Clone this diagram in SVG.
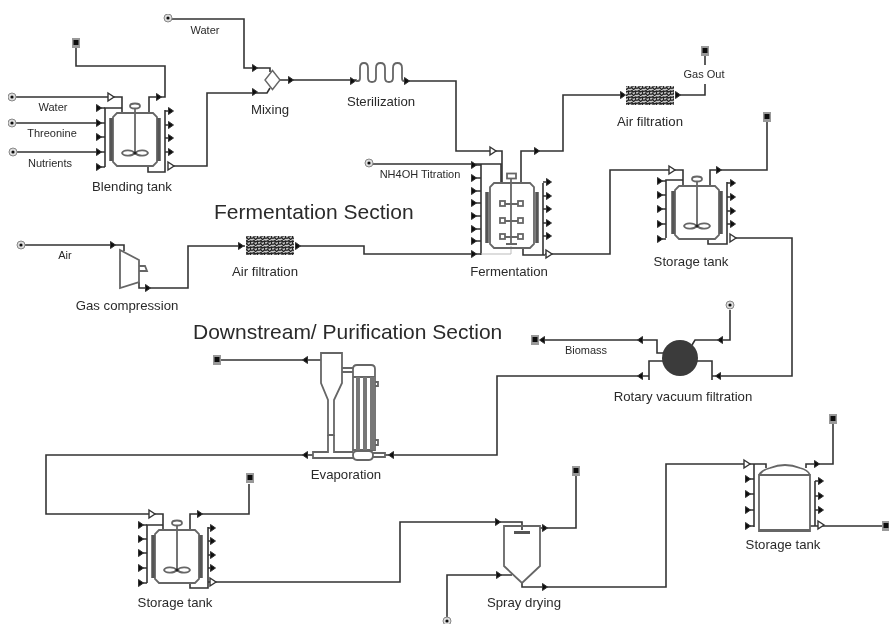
<svg xmlns="http://www.w3.org/2000/svg" xmlns:xlink="http://www.w3.org/1999/xlink" width="889" height="624" viewBox="0 0 889 624">
<style>
text{font-family:"Liberation Sans",Arial,sans-serif;fill:#2a2a2a}
.l{font-size:13.2px;text-anchor:middle}
.s{font-size:11px;text-anchor:middle}
.h{font-size:21px}
.c{fill:none;stroke:#333;stroke-width:1.6}
.e{fill:none;stroke:#666;stroke-width:1.8}
.j{fill:none;stroke:#555;stroke-width:3.5}
.t{fill:#fff;stroke:#666;stroke-width:1.4}
.d{fill:#222}
</style>
<defs>
<filter id="soft" x="0" y="0" width="100%" height="100%"><feGaussianBlur stdDeviation="0.4"/></filter>
<path id="ar" d="M-2.500,-3.500L2.500,0L-2.500,3.500Z" fill="#111" stroke="#333"/>
<path id="al" d="M2.500,-3.500L-2.500,0L2.500,3.500Z" fill="#111" stroke="#333"/>
<path id="ah" d="M-3,-4L3,0L-3,4Z" fill="#fff" stroke="#333" stroke-width="1.4"/>
<g id="snk"><rect x="-4" y="-5" width="8" height="10" fill="#999"/><rect x="-2.500" y="-3" width="5" height="5" fill="#111"/></g>
<g id="src"><circle r="4" fill="#ddd" stroke="#888"/><circle r="1.600" fill="#111"/></g>
<g id="tank">
<path class="e" d="M-18,0H18L22,4V49L18,53H-18L-22,49V4Z"/>
<path class="j" d="M-24,5V48M24,5V48"/>
<ellipse cy="-7" rx="5" ry="2.500" class="e"/>
<path class="e" d="M0,-5V39"/>
<path class="e" d="M0,40C-4,36 -12,37 -13,40C-12,43 -4,44 0,40C4,36 12,37 13,40C12,43 4,44 0,40Z" stroke-width="1.100"/>
<circle cy="40" r="1.500" class="d"/>
</g>
<pattern id="mesh" width="7" height="6" patternUnits="userSpaceOnUse">
<rect width="7" height="6" fill="#c8c8c8"/>
<path d="M0,1.500L2,0.500L3.500,2L5.500,1L7,1.500M0,4.500L1.500,3.500L3.500,5.500L5.500,4L7,4.500M2,.5V3.500M5.500,1V4" fill="none" stroke="#222" stroke-width="1.200"/>
</pattern>
</defs>
<rect width="889" height="624" fill="#fff"/>
<g filter="url(#soft)">
<g id="connectors">
<path class="c" d="M12,97H122V113"/>
<path class="c" d="M105,167V108H122"/>
<path class="c" d="M12,123H99M12,152H99"/>
<path class="c" d="M149,113V97H165V66H76V47"/>
<path class="c" d="M148,166V172H165V110"/>
<path class="c" d="M171,166H207V93H267L270,88"/>
<path class="c" d="M168,19H244V68H270V72"/>
<path class="c" d="M280,80H356V81"/>
<path class="c" d="M404,81H456V151H502V183"/>
<path class="c" d="M369,164H501V183M481,164V255"/>
<path class="c" d="M521,183V151H563V95H624"/>
<path class="c" d="M676,95H705V84M705,65V56"/>
<path class="c" d="M543,183V255M523,248V255H545"/>
<path class="c" d="M545,254H610V170H683V186"/>
<path class="c" d="M710,186V170H767V120"/>
<path class="c" d="M666,238V180H683M727,182V244H708V239"/>
<path class="c" d="M730,238H792V376H712"/>
<path class="c" d="M712,380V361H697M649,380V361H664"/>
<path class="c" d="M649,376H497V455H385"/>
<path class="c" d="M664,353H657V340H540"/>
<path class="c" d="M692,345L695,340H730V310"/>
<path class="c" d="M321,360H220"/>
<path class="c" d="M313,455H46V514H163V530"/>
<path class="c" d="M147,583V525H163M208,527V588H190V583"/>
<path class="c" d="M190,530V514H249V484"/>
<path class="c" d="M208,582H400V522H522V530"/>
<path class="c" d="M540,528H576V476"/>
<path class="c" d="M447,618V575H512"/>
<path class="c" d="M522,583V587H666V464H766V468"/>
<path class="c" d="M754,527V464M806,468V464H833V424"/>
<path class="c" d="M815,481V526H810M815,526H882"/>
<path class="c" d="M21,245H124V251"/>
<path class="c" d="M139,282V288H188V246H245"/>
<path class="c" d="M295,246H364V254H481"/>
<path d="M481,254H511V246" fill="none" stroke="#bbb" stroke-width="1"/>
<path class="c" d="M99,108H105M99,123H105M99,137H105M99,152H105M99,167H105M165,111H171M165,125H171M165,138H171M165,152H171M474,165H481M474,178H481M474,191H481M474,203H481M474,216H481M474,229H481M474,241H481M543,182H549M543,196H549M543,209H549M543,223H549M543,236H549M660,181H666M660,195H666M660,209H666M660,224H666M660,239H666M727,183H733M727,197H733M727,211H733M727,224H733M141,525H147M141,539H147M141,553H147M141,568H147M141,583H147M208,528H213M208,541H213M208,555H213M208,568H213M748,479H754M748,494H754M748,510H754M748,526H754M815,481H821M815,496H821M815,510H821"/>
<g id="arrows">
<use xlink:href="#ah" x="111" y="97"/><use xlink:href="#ar" x="159" y="97"/>
<use xlink:href="#ar" x="99" y="108"/><use xlink:href="#ar" x="99" y="123"/><use xlink:href="#ar" x="99" y="137"/><use xlink:href="#ar" x="99" y="152"/><use xlink:href="#ar" x="99" y="167"/>
<use xlink:href="#ar" x="171" y="111"/><use xlink:href="#ar" x="171" y="125"/><use xlink:href="#ar" x="171" y="138"/><use xlink:href="#ar" x="171" y="152"/><use xlink:href="#ah" x="171" y="166"/>
<use xlink:href="#ar" x="255" y="68"/><use xlink:href="#ar" x="255" y="92"/><use xlink:href="#ar" x="291" y="80"/>
<use xlink:href="#ar" x="353" y="81"/><use xlink:href="#ar" x="407" y="81"/>
<use xlink:href="#ah" x="493" y="151"/><use xlink:href="#ar" x="537" y="151"/><use xlink:href="#ar" x="623" y="95"/><use xlink:href="#ar" x="678" y="95"/>
<use xlink:href="#ar" x="474" y="165"/><use xlink:href="#ar" x="474" y="178"/><use xlink:href="#ar" x="474" y="191"/><use xlink:href="#ar" x="474" y="203"/><use xlink:href="#ar" x="474" y="216"/><use xlink:href="#ar" x="474" y="229"/><use xlink:href="#ar" x="474" y="241"/><use xlink:href="#ar" x="474" y="254"/>
<use xlink:href="#ar" x="549" y="182"/><use xlink:href="#ar" x="549" y="196"/><use xlink:href="#ar" x="549" y="209"/><use xlink:href="#ar" x="549" y="223"/><use xlink:href="#ar" x="549" y="236"/><use xlink:href="#ah" x="549" y="254"/>
<use xlink:href="#ah" x="672" y="170"/><use xlink:href="#ar" x="719" y="170"/>
<use xlink:href="#ar" x="660" y="181"/><use xlink:href="#ar" x="660" y="195"/><use xlink:href="#ar" x="660" y="209"/><use xlink:href="#ar" x="660" y="224"/><use xlink:href="#ar" x="660" y="239"/>
<use xlink:href="#ar" x="733" y="183"/><use xlink:href="#ar" x="733" y="197"/><use xlink:href="#ar" x="733" y="211"/><use xlink:href="#ar" x="733" y="224"/><use xlink:href="#ah" x="733" y="238"/>
<use xlink:href="#al" x="718" y="376"/><use xlink:href="#al" x="640" y="376"/><use xlink:href="#al" x="640" y="340"/><use xlink:href="#al" x="720" y="340"/><use xlink:href="#al" x="542" y="340"/>
<use xlink:href="#al" x="305" y="360"/><use xlink:href="#al" x="391" y="455"/><use xlink:href="#al" x="305" y="455"/>
<use xlink:href="#ah" x="152" y="514"/><use xlink:href="#ar" x="200" y="514"/>
<use xlink:href="#ar" x="141" y="525"/><use xlink:href="#ar" x="141" y="539"/><use xlink:href="#ar" x="141" y="553"/><use xlink:href="#ar" x="141" y="568"/><use xlink:href="#ar" x="141" y="583"/>
<use xlink:href="#ar" x="213" y="528"/><use xlink:href="#ar" x="213" y="541"/><use xlink:href="#ar" x="213" y="555"/><use xlink:href="#ar" x="213" y="568"/><use xlink:href="#ah" x="213" y="582"/>
<use xlink:href="#ar" x="498" y="522"/><use xlink:href="#ar" x="545" y="528"/><use xlink:href="#ar" x="499" y="575"/><use xlink:href="#ar" x="545" y="587"/>
<use xlink:href="#ah" x="747" y="464"/><use xlink:href="#ar" x="817" y="464"/>
<use xlink:href="#ar" x="748" y="479"/><use xlink:href="#ar" x="748" y="494"/><use xlink:href="#ar" x="748" y="510"/><use xlink:href="#ar" x="748" y="526"/>
<use xlink:href="#ar" x="821" y="481"/><use xlink:href="#ar" x="821" y="496"/><use xlink:href="#ar" x="821" y="510"/><use xlink:href="#ah" x="821" y="525"/>
<use xlink:href="#ar" x="113" y="245"/><use xlink:href="#ar" x="148" y="288"/><use xlink:href="#ar" x="241" y="246"/><use xlink:href="#ar" x="298" y="246"/>
</g>
</g>

<g id="sources">
<use xlink:href="#src" x="12" y="97"/><use xlink:href="#src" x="12" y="123"/><use xlink:href="#src" x="13" y="152"/>
<use xlink:href="#src" x="168" y="18"/><use xlink:href="#src" x="369" y="163"/><use xlink:href="#src" x="21" y="245"/>
<use xlink:href="#src" x="730" y="305"/><use xlink:href="#src" x="447" y="621"/>
</g>
<g id="sinks">
<use xlink:href="#snk" x="76" y="43"/><use xlink:href="#snk" x="705" y="51"/><use xlink:href="#snk" x="767" y="117"/>
<use xlink:href="#snk" x="535" y="340"/><use xlink:href="#snk" x="217" y="360"/><use xlink:href="#snk" x="250" y="478"/>
<use xlink:href="#snk" x="576" y="471"/><use xlink:href="#snk" x="833" y="419"/><use xlink:href="#snk" x="886" y="526"/>
</g>

<g id="blending-tank"><use xlink:href="#tank" x="135" y="113"/><text class="l" x="132" y="191">Blending tank</text></g>
<g id="mixing"><path class="t" d="M272.500,70.500L280,80L272.500,89.500L265,80Z"/><text class="l" x="270" y="114">Mixing</text></g>
<g id="sterilization"><path class="e" stroke-width="2" d="M356,81H358Q360,81 360,78V68Q360,63 364,63Q368,63 368,68V78Q368,82 372,82Q376,82 376,78V68Q376,63 380.500,63Q385,63 385,68V78Q385,82 389,82Q393,82 393,78V68Q393,63 397.500,63Q402,63 402,68V78Q402,81 404,81"/><text class="l" x="381" y="106">Sterilization</text></g>
<g id="fermentation">
<path class="e" d="M494,183H530L534,187V244L530,248H494L490,244V187Z"/>
<path class="j" d="M487,192V243M537,192V243"/>
<rect x="507" y="173.500" width="9" height="5" class="e" stroke-width="1.200"/>
<path class="e" d="M511,179V243M502,204H521M502,221H521M502,237H521M506,244H517"/>
<g class="e" stroke-width="1.200"><rect x="500" y="201" width="5" height="5" fill="#fff"/><rect x="518" y="201" width="5" height="5" fill="#fff"/><rect x="500" y="218" width="5" height="5" fill="#fff"/><rect x="518" y="218" width="5" height="5" fill="#fff"/><rect x="500" y="234" width="5" height="5" fill="#fff"/><rect x="518" y="234" width="5" height="5" fill="#fff"/></g>
<text class="l" x="509" y="276">Fermentation</text></g>
<g id="air-filtration-out"><rect x="626" y="86" width="48" height="19" fill="url(#mesh)"/><text class="l" x="650" y="126">Air filtration</text></g>
<g id="storage-tank-1"><use xlink:href="#tank" x="697" y="186"/><text class="l" x="691" y="266">Storage tank</text></g>
<g id="gas-compression"><path class="e" d="M120,250L139,260V282L120,288Z"/><path class="e" d="M139,266H145L147,271H139"/><text class="l" x="127" y="310">Gas compression</text></g>
<g id="air-filtration-in"><rect x="246" y="236" width="48" height="19" fill="url(#mesh)"/><text class="l" x="265" y="276">Air filtration</text></g>
<g id="rotary-vacuum-filtration"><circle cx="680" cy="358" r="18" fill="#3a3a3a"/><text class="l" x="683" y="401">Rotary vacuum filtration</text></g>
<g id="evaporation">
<path class="e" d="M321,353H342V383L334,400V435H328V400L321,383Z"/>
<path class="e" d="M342,368H353M342,372H353"/>
<path class="e" d="M353,377V369Q353,365 357,365H371Q375,365 375,369V450H353V377H375"/>
<path d="M356,377H360V450H356ZM363,377H367V450H363ZM370,377H375V450H370Z" fill="#777"/>
<path class="e" d="M375,382H378V386H375M375,440H378V445H375"/>
<path class="e" d="M328,435V452H313V458H353M334,435V452H353"/>
<path class="e" d="M353,455Q353,451 357,451H369Q373,451 373,455Q373,460 369,460H357Q353,460 353,455Z"/>
<path class="e" d="M373,453H385V457H373"/>
<text class="l" x="346" y="479">Evaporation</text></g>
<g id="storage-tank-2"><use xlink:href="#tank" x="177" y="530"/><text class="l" x="175" y="607">Storage tank</text></g>
<g id="spray-drying"><path class="e" d="M504,526H540V566L522,583L504,566Z"/><rect x="514" y="531" width="16" height="3" fill="#555"/><text class="l" x="524" y="607">Spray drying</text></g>
<g id="storage-tank-3"><path class="e" d="M759,531V475H810V531ZM759,475Q762,470 770,468Q785,462 800,468Q808,470 810,475"/><rect x="759" y="529" width="51" height="3" fill="#666"/><text class="l" x="783" y="549">Storage tank</text></g>

<g id="labels">
<text class="s" x="53" y="111">Water</text><text class="s" x="52" y="137">Threonine</text><text class="s" x="50" y="167">Nutrients</text>
<text class="s" x="205" y="34">Water</text><text class="s" x="420" y="178">NH4OH Titration</text>
<text class="s" x="704" y="78">Gas Out</text><text class="s" x="65" y="259">Air</text><text class="s" x="586" y="354">Biomass</text>
<text class="h" x="214" y="219">Fermentation Section</text>
<text class="h" x="193" y="339">Downstream/ Purification Section</text>
</g>
</g>
</svg>
